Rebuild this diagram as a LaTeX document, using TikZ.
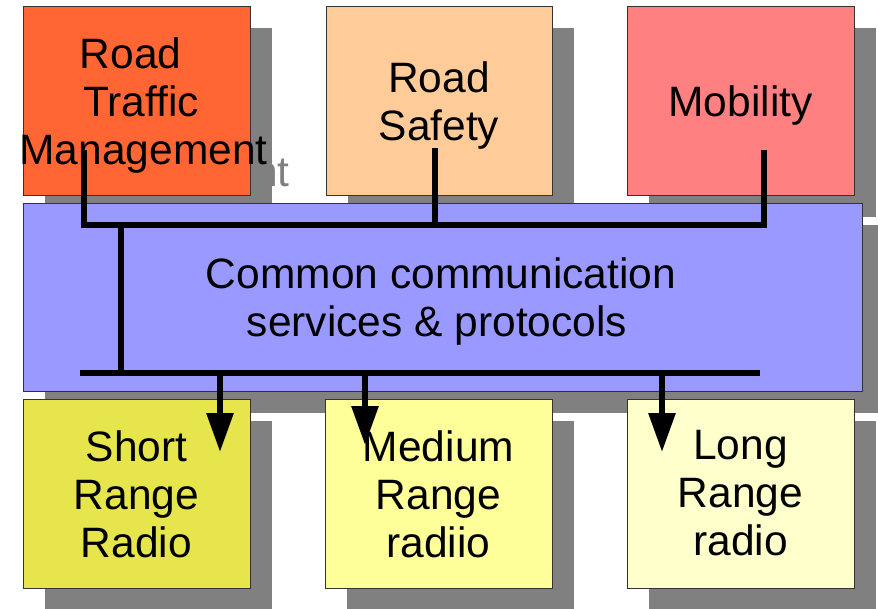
\documentclass[tikz,border=0pt]{standalone}
\usepackage{fontspec}
\setmainfont{Liberation Sans}
\usetikzlibrary{arrows.meta}
\definecolor{shadowgray}{HTML}{808080}
\definecolor{rtmcol}{HTML}{FF6633}
\definecolor{rscol}{HTML}{FFCC99}
\definecolor{mobcol}{HTML}{FF8080}
\definecolor{bluecol}{HTML}{9999FF}
\definecolor{shortcol}{HTML}{E6E64C}
\definecolor{medcol}{HTML}{FFFF99}
\definecolor{longcol}{HTML}{FFFFCC}
\definecolor{edgecol}{HTML}{333333}
\tikzset{
  boxbase/.style={rectangle, minimum width=227pt, minimum height=189pt, inner sep=0pt},
  mainbox/.style={boxbase, draw=edgecol, line width=0.9pt},
  shadowbox/.style={boxbase, fill=shadowgray},
  boxtext/.style={anchor=north, inner sep=0pt, align=center, text=black,
    font=\fontsize{42.5}{48}\selectfont},
  ghosttext/.style={boxtext, text=shadowgray},
  buswire/.style={line width=6pt, line join=miter, black},
  busarrow/.style={line width=6pt, black, -{Triangle[length=39pt,width=26pt]}}
}
\begin{document}
\begin{tikzpicture}[x=1pt,y=-1pt]
\useasboundingbox (0,0) rectangle (878,608);
\fill[white] (0,0) rectangle (878,608);
% top row
\node[shadowbox] (rtmShadow) at (158.5,122.5) {};
\node[ghosttext] (rtmGhost) at (158.5,59.3) {\makebox[0pt]{Road\kern12pt}\\\makebox[0pt]{\kern9pt Traffic}\\\makebox[0pt]{\kern14pt Management}};
\node[mainbox, fill=rtmcol] (rtm) at (136.5,100.5) {};
\node[boxtext] (rtmText) at (136.5,37.3) {\makebox[0pt]{Road\kern12pt}\\\makebox[0pt]{\kern9pt Traffic}\\\makebox[0pt]{\kern14pt Management}};
\node[shadowbox, minimum width=226pt] (rsShadow) at (461,122.5) {};
\node[mainbox, fill=rscol, minimum width=226pt] (rs) at (439,100.5) {};
\node[boxtext] (rsText) at (439,61.3) {Road\\Safety};
\node[shadowbox] (mobShadow) at (762.5,122.5) {};
\node[mainbox, fill=mobcol] (mob) at (740.5,100.5) {};
\node[boxtext] (mobText) at (740.5,85.3) {Mobility};
% middle
\node[shadowbox, minimum width=839pt, minimum height=188pt] (commShadow) at (464.5,319) {};
\node[mainbox, fill=bluecol, minimum width=839pt, minimum height=188pt] (comm) at (442.5,297) {};
\node[boxtext] (commText) at (442.5,257.8) {\makebox[0pt]{Common communication\kern3pt}\\\makebox[0pt]{services \& protocols\kern11pt}};
% bottom row
\node[shadowbox] (shortShadow) at (158.5,515.5) {};
\node[mainbox, fill=shortcol] (short) at (136.5,493.5) {};
\node[boxtext] (shortText) at (136.5,430.3) {Short\\Range\\Radio};
\node[shadowbox] (medShadow) at (460.5,515.5) {};
\node[mainbox, fill=medcol] (med) at (438.5,493.5) {};
\node[boxtext] (medText) at (438.5,430.3) {Medium\\Range\\radiio};
\node[shadowbox] (longShadow) at (762.5,515.5) {};
\node[mainbox, fill=longcol] (long) at (740.5,493.5) {};
\node[boxtext] (longText) at (740.5,430.3) {Long\\Range\\radio};
% connector points
\coordinate (rtmS) at (84,150);
\coordinate (rsS) at (435,148);
\coordinate (mobS) at (764,150);
\coordinate (topBusR) at (764,225);
\coordinate (rsBus) at (435,225);
\coordinate (linkTop) at (121,225);
\coordinate (linkBot) at (121,373);
\coordinate (botBusL) at (80,373);
\coordinate (botBusR) at (760,373);
\coordinate (shortA) at (220,373);
\coordinate (shortT) at (220,452);
\coordinate (medA) at (365,373);
\coordinate (medT) at (365,445);
\coordinate (longA) at (662,373);
\coordinate (longT) at (662,452);
% wires
\draw[buswire] (rtmS) |- (topBusR) -- (mobS);
\draw[buswire] (rsS) -- (rsBus);
\draw[buswire] (linkTop) -- (linkBot);
\draw[buswire] (botBusL) -- (botBusR);
\draw[busarrow] (shortA) -- (shortT);
\draw[busarrow] (medA) -- (medT);
\draw[busarrow] (longA) -- (longT);
\end{tikzpicture}
\end{document}
